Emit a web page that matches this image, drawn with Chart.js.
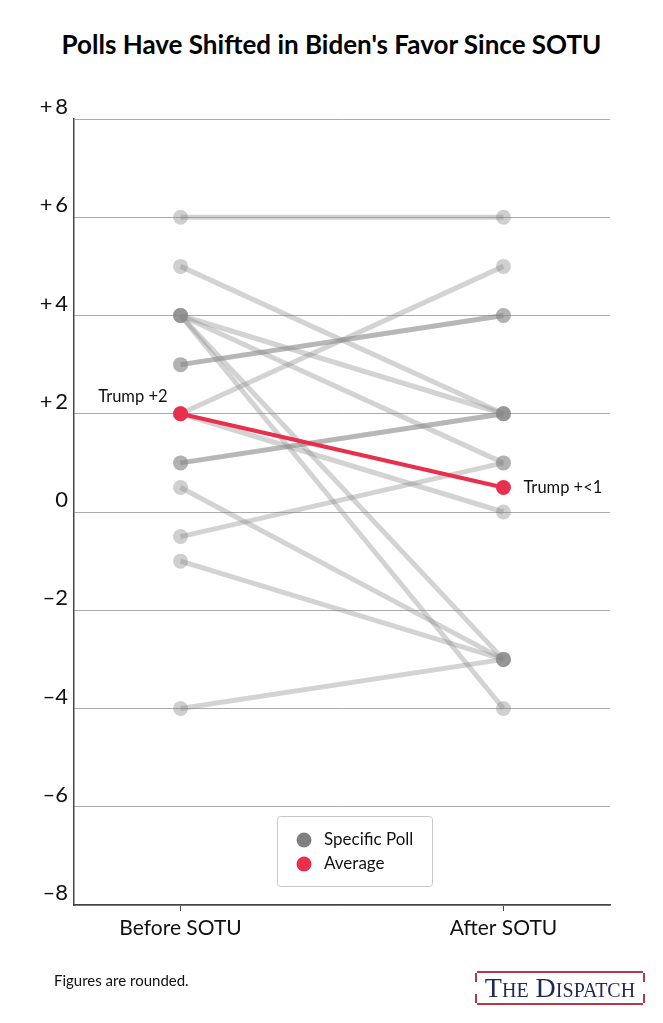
<!DOCTYPE html>
<html>
<head>
<meta charset="utf-8">
<script src="https://cdn.jsdelivr.net/npm/chart.js@4.4.1/dist/chart.umd.min.js"></script>
<style>
  body { margin: 0; background: #fff; overflow: hidden; font-family: Lato, sans-serif; }
  .wrap { position: relative; width: 663px; height: 1023px; }
  .title { position: absolute; top: 28px; left: 0; width: 663px; text-align: center;
    font-weight: 700; font-size: 26px; color: #000; }
  .note { position: absolute; left: 54px; top: 971px; font-size: 15px; color: #111; }
  .logo { position: absolute; left: 477px; top: 971px; width: 166px; height: 30px;
    border-top: 2px solid #b7384b; border-bottom: 2px solid #b7384b;
    font-family: "Liberation Serif", "DejaVu Serif", serif; font-variant: small-caps;
    font-size: 28px; line-height: 30px; text-align: center; color: #1e2a56; letter-spacing: 0; }
  .logo i { position: absolute; width: 2px; height: 9px; background: #b7384b; }
  canvas { position: absolute; left: 0; top: 0; }
</style>
</head>
<body>
<div class="wrap">
  <div class="title">Polls Have Shifted in Biden's Favor Since SOTU</div>
  <canvas id="myChart" width="663" height="1023"></canvas>
  <div class="note">Figures are rounded.</div>
  <div class="logo">The Dispatch
    <i style="left:-2px;top:0"></i><i style="right:-2px;top:0"></i>
    <i style="left:-2px;bottom:0"></i><i style="right:-2px;bottom:0"></i>
  </div>
</div>
<script>
// Данные
const periods = ["Before SOTU", "After SOTU"];
const pollBefore = [6, 5, 4, 4, 4, 4, 3, 3, 2, 2, 1, 1, 0.5, -0.5, -1, -4];
const pollAfter = [6, 2, 2, 1, -3, -4, 4, 4, 5, 0, 2, 2, -3, 1, -3, -3];
const average = [2, 0.5];
const avgLabels = ["Trump +2", "Trump +<1"];
const yTicks = [8, 6, 4, 2, 0, -2, -4, -6, -8];
const yTickLabels = ["+\u20098", "+\u20096", "+\u20094", "+\u20092", "0", "\u20132", "\u20134", "\u20136", "\u20138"];

const RED = "#e8304e";
const GREY_LINE = "rgba(140,140,140,0.38)";
const GREY_POINT = "rgba(135,135,135,0.4)";

const datasets = [
  {
    label: "Average",
    data: average.map((v, i) => ({ x: i, y: v })),
    borderColor: RED,
    backgroundColor: RED,
    borderWidth: 4,
    pointRadius: 7.5,
    pointBorderWidth: 0,
    order: -1,
  },
];
pollBefore.forEach((b, i) => {
  datasets.push({
    label: "Specific Poll",
    data: [{ x: 0, y: b }, { x: 1, y: pollAfter[i] }],
    borderColor: GREY_LINE,
    backgroundColor: GREY_POINT,
    borderWidth: 5,
    pointRadius: 7.5,
    pointBorderWidth: 0,
  });
});

// подписи и легенда
const extras = {
  id: "extras",
  afterDraw(chart) {
    const { ctx, scales: { x, y } } = chart;
    ctx.save();
    ctx.font = "16.5px Lato";
    ctx.fillStyle = "#111";
    ctx.textBaseline = "middle";
    ctx.textAlign = "right";
    ctx.fillText(avgLabels[0], x.getPixelForValue(0) - 13, y.getPixelForValue(average[0]) - 17);
    ctx.textAlign = "left";
    ctx.fillText(avgLabels[1], x.getPixelForValue(1) + 20, y.getPixelForValue(average[1]));

    // легенда
    const lx = 277, ly = 816, lw = 155, lh = 70;
    ctx.strokeStyle = "#c8c8c8";
    ctx.lineWidth = 1;
    ctx.beginPath();
    ctx.roundRect(lx + 0.5, ly + 0.5, lw, lh, 3);
    ctx.stroke();
    ctx.fillStyle = "#808080";
    ctx.beginPath();
    ctx.arc(lx + 27, ly + 24, 7.5, 0, Math.PI * 2);
    ctx.fill();
    ctx.fillStyle = RED;
    ctx.beginPath();
    ctx.arc(lx + 27, ly + 48, 7.5, 0, Math.PI * 2);
    ctx.fill();
    ctx.fillStyle = "#111";
    ctx.font = "17px Lato";
    ctx.fillText("Specific Poll", lx + 47, ly + 24);
    ctx.fillText("Average", lx + 47, ly + 48);
    ctx.restore();
  },
};

const ctx = document.getElementById("myChart").getContext("2d");
new Chart(ctx, {
  type: "line",
  data: { datasets: datasets },
  plugins: [extras],
  options: {
    responsive: false,
    animation: false,
    layout: { padding: { top: 119, right: 53, bottom: 68, left: 0 } },
    plugins: { legend: { display: false }, tooltip: { enabled: false }, title: { display: false } },
    scales: {
      x: {
        type: "linear",
        min: -0.33,
        max: 1.33,
        afterBuildTicks: (scale) => {
          scale.ticks = periods.map((p, i) => ({ value: i }));
        },
        afterFit: (scale) => {
          scale.height = 50;
        },
        ticks: {
          callback: (value) => periods[value],
          color: "#111",
          padding: 5,
          font: { family: "Lato", size: 21 },
        },
        grid: { display: true, drawOnChartArea: false, drawTicks: true, tickLength: 6, color: "#444" },
        border: { display: true, color: "#444", width: 1.5 },
      },
      y: {
        min: -8,
        max: 8,
        afterBuildTicks: (scale) => {
          scale.ticks = yTicks.map((v) => ({ value: v }));
        },
        afterFit: (scale) => {
          scale.width = 74;
        },
        ticks: {
          callback: (value) => yTickLabels[yTicks.indexOf(value)],
          color: "#111",
          padding: 6,
          labelOffset: -12,
          font: { family: "Lato", size: 22 },
        },
        grid: { color: "#ababab", lineWidth: 1, drawTicks: false },
        border: { display: true, color: "#444", width: 1.5 },
      },
    },
  },
});
</script>
</body>
</html>
